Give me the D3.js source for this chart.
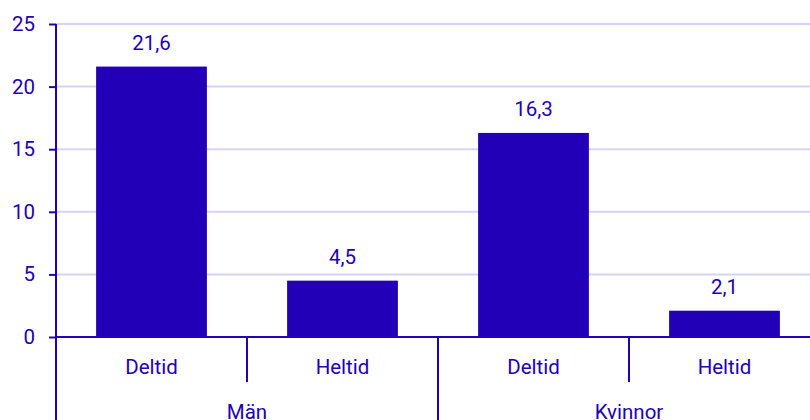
<!DOCTYPE html>
<html>
<head>
<meta charset="utf-8">
<script src="https://cdn.jsdelivr.net/npm/d3@7"></script>
<style>
  body { margin: 0; background: #fff; }
  svg text { font-family: Roboto, sans-serif; fill: #2200b8; }
</style>
</head>
<body>
<div id="chart"></div>
<script>
// Chart data
const groups = ["Män", "Kvinnor"];
const types = ["Deltid", "Heltid"];
const values = [21.6, 4.5, 16.3, 2.1];
const yTicks = [0, 5, 10, 15, 20, 25];

const ink = "#2200b8";
const fontSize = 20.5;
const width = 810, height = 420;
const margin = { top: 24, left: 56, bottom: 83 };
const plotH = height - margin.top - margin.bottom;

const svg = d3.select("#chart").append("svg")
    .attr("width", width)
    .attr("height", height);

// one band per bar, groups x types
const keys = [];
groups.forEach(g => types.forEach(t => keys.push(g + "|" + t)));

const x = d3.scaleBand()
    .domain(keys)
    .range([margin.left, margin.left + 764])
    .paddingInner(0.42)
    .paddingOuter(0.21);

const y = d3.scaleLinear()
    .domain([0, 25])
    .range([margin.top + plotH, margin.top]);

// gridlines
svg.append("g")
    .selectAll("line")
    .data(yTicks.filter(d => d > 0))
    .enter().append("line")
    .attr("x1", margin.left)
    .attr("x2", width)
    .attr("y1", d => y(d))
    .attr("y2", d => y(d))
    .attr("stroke", "#d6d4f2")
    .attr("stroke-width", 2);

// bars
svg.append("g")
    .selectAll("rect")
    .data(values)
    .enter().append("rect")
    .attr("x", (d, i) => x(keys[i]))
    .attr("y", d => y(d))
    .attr("width", x.bandwidth())
    .attr("height", d => y(0) - y(d))
    .attr("fill", ink);

// value labels
svg.append("g")
    .selectAll("text")
    .data(values)
    .enter().append("text")
    .attr("x", (d, i) => x(keys[i]) + x.bandwidth() / 2)
    .attr("y", d => y(d) - 17)
    .attr("text-anchor", "middle")
    .attr("font-size", fontSize)
    .text(d => String(d).replace(".", ","));

// y axis
const yAxis = svg.append("g")
    .attr("transform", `translate(${margin.left},0)`)
    .call(d3.axisLeft(y).tickValues(yTicks).tickSize(7).tickPadding(14));
yAxis.select(".domain").remove();
yAxis.selectAll("line").attr("stroke", ink).attr("stroke-width", 2);
yAxis.selectAll("text")
    .attr("font-size", fontSize)
    .attr("font-family", "Roboto, sans-serif")
    .attr("fill", ink);

// y axis line, running down through the category area
svg.append("line")
    .attr("x1", margin.left).attr("x2", margin.left)
    .attr("y1", margin.top).attr("y2", height)
    .attr("stroke", ink).attr("stroke-width", 2);

// baseline
svg.append("line")
    .attr("x1", margin.left).attr("x2", width)
    .attr("y1", y(0)).attr("y2", y(0))
    .attr("stroke", ink).attr("stroke-width", 2);

const step = x.step();

// category labels and dividers
keys.forEach((k, i) => {
    svg.append("text")
        .attr("x", x(k) + x.bandwidth() / 2)
        .attr("y", y(0) + 37)
        .attr("text-anchor", "middle")
        .attr("font-size", fontSize)
        .text(k.split("|")[1]);
    if (i > 0) {
        const xb = margin.left + step * i;
        svg.append("line")
            .attr("x1", xb).attr("x2", xb)
            .attr("y1", y(0))
            .attr("y2", i % types.length === 0 ? height : y(0) + 45)
            .attr("stroke", ink).attr("stroke-width", 2);
    }
});

// group labels
groups.forEach((g, gi) => {
    svg.append("text")
        .attr("x", margin.left + step * types.length * (gi + 0.5))
        .attr("y", y(0) + 82)
        .attr("text-anchor", "middle")
        .attr("font-size", fontSize)
        .text(g);
});
</script>
</body>
</html>
